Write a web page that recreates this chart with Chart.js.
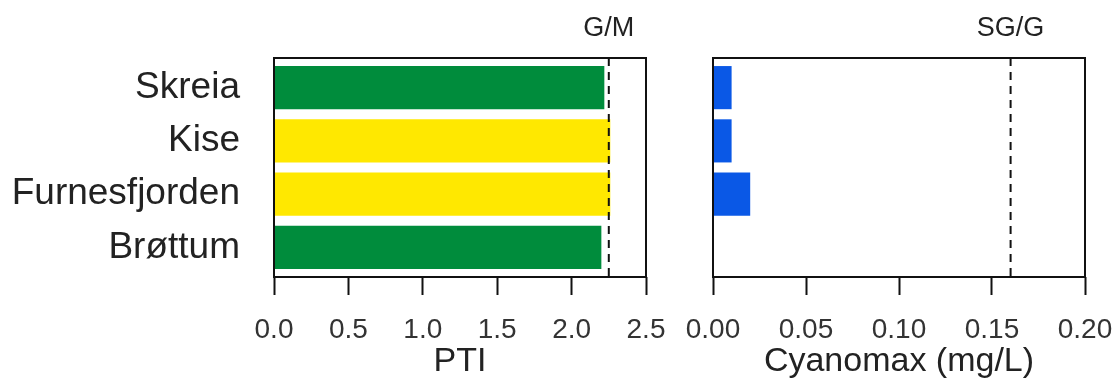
<!DOCTYPE html>
<html>
<head>
<meta charset="utf-8">
<script src="https://cdn.jsdelivr.net/npm/chart.js@4"></script>
<style>
  html, body { margin: 0; padding: 0; background: #fff; }
  #wrap { position: relative; width: 1115px; height: 379px; }
  #pti-chart { position: absolute; left: 0; top: 0; }
  #cyano-chart { position: absolute; left: 680px; top: 0; }
</style>
</head>
<body>
<div id="wrap">
  <canvas id="pti-chart" width="680" height="379"></canvas>
  <canvas id="cyano-chart" width="435" height="379"></canvas>
</div>
<script>
const sites = ['Skreia', 'Kise', 'Furnesfjorden', 'Brøttum'];
const ptiValues = [2.22, 2.26, 2.26, 2.2];
const cyanoValues = [0.01, 0.01, 0.02, 0];

const ptiLimit = 2.25;    // G/M class boundary
const cyanoLimit = 0.16;  // SG/G class boundary

const GREEN = '#008c3c';
const YELLOW = '#ffe800';
const BLUE = '#0a58e6';
const INK = '#222';
const FRAME_GAP = 3;      // box sits a little outside the bar area

Chart.defaults.font.family = '"Liberation Sans", Arial, sans-serif';
Chart.defaults.color = INK;

// box around the plot area, dashed class boundary and its label on top
const framePlugin = {
  id: 'frame',
  afterDatasetsDraw(chart, args, opts) {
    const { ctx, chartArea: a, scales: { x } } = chart;
    const px = x.getPixelForValue(opts.limit);
    const top = a.top - FRAME_GAP;
    const bottom = a.bottom + FRAME_GAP;
    ctx.save();
    ctx.strokeStyle = '#111';
    ctx.lineWidth = 2;
    ctx.setLineDash([8, 6]);
    ctx.beginPath();
    ctx.moveTo(px, top);
    ctx.lineTo(px, bottom);
    ctx.stroke();
    ctx.setLineDash([]);
    ctx.strokeRect(a.left, top, a.right - a.left, bottom - top);
    ctx.fillStyle = INK;
    ctx.font = '27px "Liberation Sans", Arial, sans-serif';
    ctx.textAlign = 'center';
    ctx.textBaseline = 'middle';
    ctx.fillText(opts.label, px, top - 29);
    ctx.restore();
  }
};

function xAxis(max, step, digits, title) {
  return {
    type: 'linear',
    min: 0,
    max: max,
    ticks: {
      stepSize: step,
      autoSkip: false,
      maxRotation: 0,
      padding: 18,
      color: '#333',
      font: { size: 28 },
      callback: v => Number(v).toFixed(digits)
    },
    grid: { drawOnChartArea: false, tickLength: 21, tickWidth: 2, tickColor: '#111' },
    // invisible border so the ticks start at the frame line
    border: { display: true, width: 2 * FRAME_GAP, color: 'rgba(0,0,0,0)' },
    title: { display: true, text: title, color: INK, font: { size: 34 }, padding: { top: 0, bottom: -3 } },
    afterFit(s) {
      s.height = 105;
      s.paddingLeft = 0;
      s.paddingRight = 0;
    }
  };
}

function barChart(id, values, colors, xScale, showLabels, yWidth, padRight, limit, limitLabel) {
  return new Chart(document.getElementById(id), {
    type: 'bar',
    data: {
      labels: sites,
      datasets: [{
        data: values,
        backgroundColor: colors,
        borderWidth: 0,
        barPercentage: 0.81,
        categoryPercentage: 1
      }]
    },
    options: {
      indexAxis: 'y',
      responsive: false,
      animation: false,
      layout: { padding: { top: 61, right: padRight, bottom: 0, left: 0 } },
      scales: {
        x: xScale,
        y: {
          grid: { display: false, drawTicks: false },
          border: { display: false },
          ticks: { display: showLabels, padding: 34, color: INK, font: { size: 37 } },
          afterFit(s) { s.width = yWidth; }
        }
      },
      plugins: {
        legend: { display: false },
        tooltip: { enabled: false },
        frame: { limit: limit, label: limitLabel }
      }
    },
    plugins: [framePlugin]
  });
}

barChart('pti-chart', ptiValues,
  ptiValues.map(v => v > ptiLimit ? YELLOW : GREEN),
  xAxis(2.5, 0.5, 1, 'PTI'), true, 274, 34, ptiLimit, 'G/M');

barChart('cyano-chart', cyanoValues, BLUE,
  xAxis(0.2, 0.05, 2, 'Cyanomax (mg/L)'), false, 33, 30, cyanoLimit, 'SG/G');
</script>
</body>
</html>
